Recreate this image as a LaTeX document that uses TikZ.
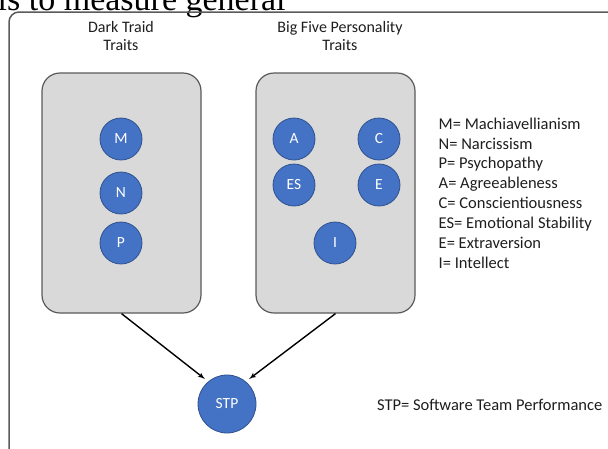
\documentclass[tikz,border=0pt]{standalone}
\usepackage{fontspec}
\setmainfont{Carlito}
\newfontfamily\pagefont{Liberation Serif}
\usetikzlibrary{arrows}

\definecolor{traitblue}{HTML}{4472C4}
\definecolor{traitedge}{HTML}{2F528F}
\definecolor{boxgray}{HTML}{D9D9D9}
\definecolor{boxedge}{HTML}{5A5A5A}
\definecolor{inktext}{HTML}{1E1E1E}

\tikzset{
  group/.style={draw=boxedge, line width=1.2pt, fill=boxgray, rounded corners=18pt,
    minimum width=159pt, minimum height=240pt},
  trait/.style={circle, draw=traitedge, line width=0.8pt, fill=traitblue, text=white,
    minimum size=42pt, inner sep=0pt, font=\fontsize{15.5}{17}\selectfont},
  heading/.style={align=center, text=inktext, font=\fontsize{16}{18}\selectfont},
  key/.style={align=left, text=inktext, inner sep=0pt, font=\fontsize{16.5}{19.86}\selectfont}
}

\begin{document}
\begin{tikzpicture}[x=1pt, y=-1pt, >=latex', line width=1.4pt]
  \useasboundingbox (0,0) rectangle (608,448);

  % running text of the page above the figure
  \node[anchor=base west, inner sep=0pt, font=\pagefont\fontsize{34}{34}\selectfont] (pagetext) at (-3,10) {ls to measure general};

  % outer frame
  \draw[draw=boxedge, line width=1.5pt, rounded corners=10pt] (9,470) -- (9,12) -- (630,12);

  \node[heading] (darktitle) at (121,36) {Dark Traid\\Traits};
  \node[heading] (bigtitle)  at (340,36) {Big Five Personality\\Traits};

  \node[group] (dark) at (121.5,193) {};
  \node[group] (big)  at (335.5,193) {};

  \node[trait] (m)  at (121,139) {M};
  \node[trait] (n)  at (121,193) {N};
  \node[trait] (p)  at (121,243) {P};

  \node[trait] (a)  at (294,139) {A};
  \node[trait] (c)  at (379,139) {C};
  \node[trait] (es) at (294,185) {ES};
  \node[trait] (e)  at (379,185) {E};
  \node[trait] (i)  at (335,243) {I};

  \node[trait, minimum size=58pt] (stp) at (227,404) {STP};

  \draw[->, shorten >=4pt] (dark.south) -- (stp.130);
  \draw[->, shorten >=4pt] (big.south) -- (stp.50);

  \node[key, anchor=north west] (legend) at (438,117) {M= Machiavellianism\\N= Narcissism\\P= Psychopathy\\A= Agreeableness\\C= Conscientiousness\\ES= Emotional Stability\\E= Extraversion\\I= Intellect};
  \node[key, anchor=east] (stpkey) at (603,405) {STP= Software Team Performance};
\end{tikzpicture}
\end{document}
